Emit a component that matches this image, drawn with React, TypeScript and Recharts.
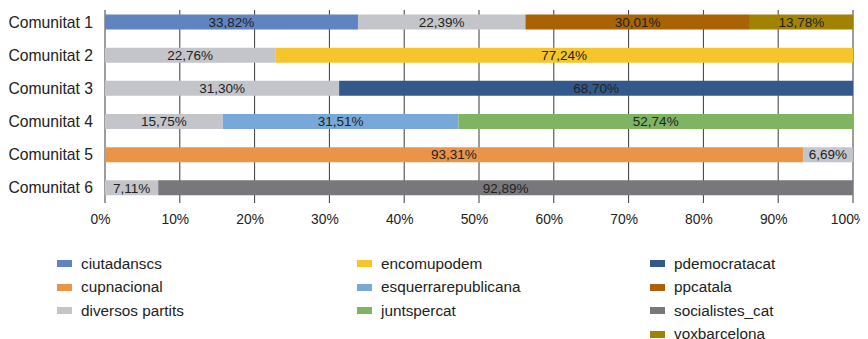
import React from 'react';
import { BarChart, Bar, XAxis, YAxis, CartesianGrid, Legend, LabelList } from 'recharts';

const communities = ['Comunitat 1', 'Comunitat 2', 'Comunitat 3', 'Comunitat 4', 'Comunitat 5', 'Comunitat 6'];

// share of each party per community (%), null = not present
const ciutadanscs = [33.82, null, null, null, null, null];
const cupnacional = [null, null, null, null, 93.31, null];
const diversosPartits = [22.39, 22.76, 31.3, 15.75, 6.69, 7.11];
const encomupodem = [null, 77.24, null, null, null, null];
const esquerrarepublicana = [null, null, null, 31.51, null, null];
const juntspercat = [null, null, null, 52.74, null, null];
const pdemocratacat = [null, null, 68.7, null, null, null];
const ppcatala = [30.01, null, null, null, null, null];
const socialistesCat = [null, null, null, null, null, 92.89];
const voxbarcelona = [13.78, null, null, null, null, null];

const xTicks = [0, 10, 20, 30, 40, 50, 60, 70, 80, 90, 100];

const series = [
  { key: 'ciutadanscs', values: ciutadanscs, color: '#5f84c1' },
  { key: 'cupnacional', values: cupnacional, color: '#ea9449' },
  { key: 'diversos partits', values: diversosPartits, color: '#c4c5ca' },
  { key: 'encomupodem', values: encomupodem, color: '#f5c52b' },
  { key: 'esquerrarepublicana', values: esquerrarepublicana, color: '#78a8d7' },
  { key: 'juntspercat', values: juntspercat, color: '#7fb463' },
  { key: 'pdemocratacat', values: pdemocratacat, color: '#33598b' },
  { key: 'ppcatala', values: ppcatala, color: '#a96204' },
  { key: 'socialistes_cat', values: socialistesCat, color: '#78787c' },
  { key: 'voxbarcelona', values: voxbarcelona, color: '#a28301' },
];

const data = communities.map((name, i) => {
  const row: Record<string, string | number | null> = { name };
  series.forEach((s) => {
    row[s.key] = s.values[i];
  });
  return row;
});

const font = '"Liberation Sans", Arial, Helvetica, sans-serif';
const textColor = '#222';

const fmt = (v: any) => (v ? Number(v).toFixed(2).replace('.', ',') + '%' : '');

const colLeft = [57, 357, 650];

const XTick = (props: any) => {
  const { x, y, payload } = props;
  return (
    <text x={x - 4.5} y={y} dy={10} textAnchor="middle" fontSize={13.8} fill={textColor} fontFamily={font}>
      {payload.value + '%'}
    </text>
  );
};

const renderLegend = (props: any) => {
  const items = props.payload || [];
  return (
    <div style={{ position: 'relative', width: 868, height: 89, fontFamily: font }}>
      {items.map((item: any, i: number) => {
        const col = i < 3 ? 0 : i < 6 ? 1 : 2;
        const row = i - col * 3;
        return (
          <div
            key={item.value}
            style={{
              position: 'absolute',
              left: colLeft[col],
              top: 2 + row * 23.5,
              height: 23.5,
              display: 'flex',
              alignItems: 'center',
              fontSize: 15.3,
              color: textColor,
              whiteSpace: 'nowrap',
            }}
          >
            <span style={{ display: 'inline-block', width: 15, height: 7, background: item.color, marginRight: 9 }} />
            {item.value}
          </div>
        );
      })}
    </div>
  );
};

export default function App() {
  return (
    <div style={{ margin: '-8px 0 0 -8px', width: 868, height: 339, background: '#fff' }}>
      <BarChart
        layout="vertical"
        width={868}
        height={339}
        data={data}
        margin={{ top: 5.5, right: 15, left: 0, bottom: 15.5 }}
        barSize={15}
      >
        <CartesianGrid horizontal={false} stroke="#3a3a3a" y={10} height={193} />
        <XAxis
          type="number"
          domain={[0, 100]}
          ticks={xTicks}
          axisLine={false}
          tickLine={false}
          tickSize={0}
          tickMargin={9}
          height={30}
          tick={<XTick />}
        />
        <YAxis
          type="category"
          dataKey="name"
          width={105}
          axisLine={false}
          tickLine={false}
          tickSize={0}
          tickMargin={12}
          tick={{ fontSize: 15.7, fill: textColor, fontFamily: font }}
        />
        <Legend
          verticalAlign="bottom"
          content={renderLegend}
          wrapperStyle={{ left: 0, top: 250, bottom: 'auto', width: 868, height: 89 }}
        />
        {series.map((s) => (
          <Bar key={s.key} dataKey={s.key} stackId="a" fill={s.color} isAnimationActive={false}>
            <LabelList
              dataKey={s.key}
              position="center"
              formatter={fmt}
              fill={textColor}
              style={{ fontSize: 13.5, fontFamily: font }}
            />
          </Bar>
        ))}
      </BarChart>
    </div>
  );
}
